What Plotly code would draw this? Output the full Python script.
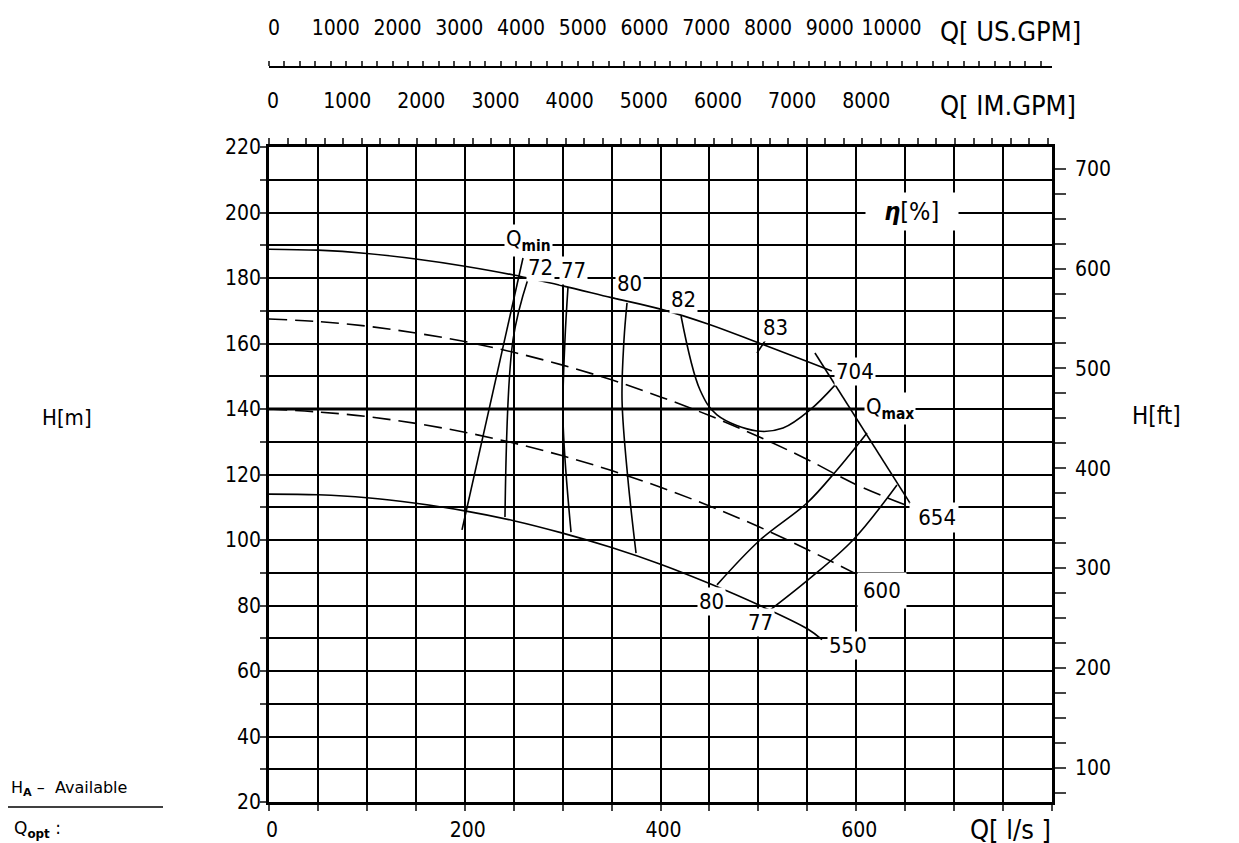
import plotly.graph_objects as go

# ── unit conversions for the secondary axes ──
LPS_TO_USGPM = 15.850
LPS_TO_IMGPM = 13.198
M_TO_FT = 3.28084

# ── pump curves, flow Q [l/s] vs head H [m] ──
q_704 = [0, 50, 100, 150, 200, 250, 300, 350, 400, 450, 500, 550, 575]
h_704 = [188.8, 188.5, 187.5, 185.8, 183.6, 180.9, 177.6, 174.0, 170.5, 165.8, 160.2, 154.5, 151.6]

q_654 = [0, 50, 100, 150, 200, 250, 300, 350, 400, 450, 500, 550, 600, 658]
h_654 = [167.5, 166.7, 165.3, 163.2, 160.6, 157.3, 153.4, 148.9, 143.7, 138.0, 131.6, 124.6, 116.9, 109.8]

q_600 = [0, 50, 100, 150, 200, 250, 300, 350, 400, 450, 500, 550, 602]
h_600 = [140.0, 139.1, 137.7, 135.6, 132.9, 129.6, 125.7, 121.2, 116.1, 110.4, 104.1, 97.1, 89.3]

q_550 = [0, 50, 100, 150, 200, 250, 300, 350, 400, 450, 500, 550, 565]
h_550 = [114.0, 113.8, 112.9, 111.2, 108.9, 105.9, 102.1, 97.7, 92.6, 86.7, 80.2, 72.9, 69.6]

# ── efficiency iso-lines ──
q_eta72 = [264.6, 249.3, 241.1]
h_eta72 = [179.7, 161.1, 107.0]
q_eta77 = [305.5, 302.4, 300.4, 308.6]
h_eta77 = [177.3, 161.1, 136.6, 102.4]
q_eta80 = [365.8, 362.7, 360.7, 366.8, 375.0]
h_eta80 = [172.4, 161.1, 142.7, 118.3, 96.0]
q_eta82 = [421.0, 440.4, 457.7, 498.6, 525.2, 552.7, 578.3]
h_eta82 = [168.4, 145.8, 138.2, 133.3, 134.2, 139.7, 147.3]
q_eta83 = [498.6, 508.8]
h_eta83 = [157.1, 161.7]
q_eta80b = [457.7, 501.7, 549.7, 580.3, 611.0]
h_eta80b = [86.3, 100.0, 111.3, 121.4, 132.7]
q_eta77b = [511.9, 550.7, 596.7, 641.6]
h_eta77b = [78.6, 87.8, 100.0, 116.8]

# ── operating limits ──
q_qmin = [259.5, 197.2]
h_qmin = [186.1, 103.1]
q_qmax = [557.8, 658.0]
h_qmax = [157.1, 109.8]
q_hline = [0, 611]
h_hline = [140, 140]

# ── labels ──
curve_labels = ["704", "550"]
curve_label_q = [598.7, 591.6]
curve_label_h = [151.3, 67.9]
eta_labels = ["72", "77", "80", "82", "83", "80", "77"]
eta_label_q = [276.9, 310.6, 368.8, 423.0, 517.0, 452.6, 501.7]
eta_label_h = [183.1, 182.4, 178.2, 173.3, 165.0, 81.1, 74.7]

x_ticks = [0, 200, 400, 600]
y_ticks = [20, 40, 60, 80, 100, 120, 140, 160, 180, 200, 220]
ft_ticks = [100, 200, 300, 400, 500, 600, 700]
us_ticks = [0, 1000, 2000, 3000, 4000, 5000, 6000, 7000, 8000, 9000, 10000]
im_ticks = [0, 1000, 2000, 3000, 4000, 5000, 6000, 7000, 8000]

FONT = "DejaVu Sans Condensed, Liberation Sans Narrow, sans-serif"
W, H = 1239, 843
# the page sits 8px in from the window corner, margins allow for that
ML, MR, MT, MB = 261, 195, 59, 49
PLOT_W = 783
PLOT_H = 735


def px(x, y):
    # window pixel position -> paper coordinates
    return (x - 269) / PLOT_W, (802 - y) / PLOT_H


fig = go.Figure()

line = dict(color="black", width=1.6)
dash = dict(color="black", width=1.6, dash="18px,8px")

fig.add_trace(go.Scatter(x=q_hline, y=h_hline, mode="lines", line=dict(color="black", width=3)))
fig.add_trace(go.Scatter(x=q_704, y=h_704, mode="lines", line=line, line_shape="spline"))
fig.add_trace(go.Scatter(x=q_654, y=h_654, mode="lines", line=dash, line_shape="spline"))
fig.add_trace(go.Scatter(x=q_600, y=h_600, mode="lines", line=dash, line_shape="spline"))
fig.add_trace(go.Scatter(x=q_550, y=h_550, mode="lines", line=line, line_shape="spline"))

for qq, hh in [(q_eta72, h_eta72), (q_eta77, h_eta77), (q_eta80, h_eta80), (q_eta82, h_eta82),
               (q_eta83, h_eta83), (q_eta80b, h_eta80b), (q_eta77b, h_eta77b),
               (q_qmin, h_qmin), (q_qmax, h_qmax)]:
    fig.add_trace(go.Scatter(x=qq, y=hh, mode="lines", line=line, line_shape="spline"))

# invisible traces so the extra axes get drawn
fig.add_trace(go.Scatter(x=[0], y=[20], xaxis="x2", mode="none"))
fig.add_trace(go.Scatter(x=[0], y=[20], xaxis="x3", mode="none"))
fig.add_trace(go.Scatter(x=[0], y=[100], yaxis="y2", mode="none"))

grid = dict(showgrid=True, gridcolor="black", gridwidth=1.8)
y_dom = 655 / PLOT_H

fig.update_layout(
    width=W, height=H,
    margin=dict(l=ML, r=MR, t=MT, b=MB, autoexpand=False),
    plot_bgcolor="white", paper_bgcolor="white",
    showlegend=False,
    font=dict(family=FONT, size=21, color="black"),
    xaxis=dict(range=[0, 800], tickvals=x_ticks, ticks="outside", ticklen=6, tickwidth=1.8,
               showline=True, linecolor="black", linewidth=3, zeroline=False, automargin=False,
               minor=dict(dtick=50, tick0=0, ticks="outside", ticklen=6, tickwidth=1.8, **grid),
               ticklabelstandoff=1, ticklabelshift=3, **grid),
    yaxis=dict(range=[20, 220], domain=[0, y_dom], tickvals=y_ticks, ticks="outside", ticklen=6,
               tickwidth=1.8, showline=True, linecolor="black", linewidth=2.5, zeroline=False,
               automargin=False,
               minor=dict(dtick=10, tick0=0, ticks="outside", ticklen=6, tickwidth=1.8, **grid),
               ticklabelstandoff=-5, **grid),
    xaxis2=dict(overlaying="x", side="top", anchor="y", range=[0, 800 * LPS_TO_IMGPM],
                tickvals=im_ticks, ticks="outside", ticklen=6, tickwidth=1.8, automargin=False,
                showline=True, linecolor="black", linewidth=3, showgrid=False, zeroline=False,
                minor=dict(dtick=250, tick0=0, ticks="outside", ticklen=6, tickwidth=1.8),
                ticklabelstandoff=22, ticklabelshift=4),
    xaxis3=dict(overlaying="x", side="top", anchor="free", position=1, automargin=False,
                range=[0, 800 * LPS_TO_USGPM],
                tickvals=us_ticks, ticktext=[str(v) for v in us_ticks],
                ticks="outside", ticklen=5, tickwidth=1.8,
                showline=True, linecolor="black", linewidth=2, showgrid=False, zeroline=False,
                minor=dict(tickvals=list(range(0, 12501, 250)), ticks="outside", ticklen=5, tickwidth=1.8),
                ticklabelstandoff=18, ticklabelshift=5),
    yaxis2=dict(overlaying="y", side="right", anchor="x", range=[20 * M_TO_FT, 220 * M_TO_FT],
                tickvals=ft_ticks, ticks="outside", ticklen=11, tickwidth=1.8, automargin=False,
                showline=True, linecolor="black", linewidth=2.5, showgrid=False, zeroline=False,
                minor=dict(dtick=25, tick0=0, ticks="outside", ticklen=11, tickwidth=1.8),
                ticklabelstandoff=5),
)

# curve labels, white boxes break the grid like the drawing
for t, qv, hv in zip(curve_labels + eta_labels, curve_label_q + eta_label_q, curve_label_h + eta_label_h):
    fig.add_annotation(x=qv, y=hv, text=t, showarrow=False, bgcolor="white", borderpad=1,
                       font=dict(size=22))

# "654" and "600" sit in boxes that blank a whole grid cell
fig.add_annotation(x=654, y=107.0, text="&nbsp;654", showarrow=False, xanchor="left",
                   bgcolor="white", borderpad=2, font=dict(size=22))
fig.add_annotation(x=626, y=84.5, text="600", showarrow=False, bgcolor="white", borderpad=5,
                   font=dict(size=22))

fig.add_annotation(x=657, y=200.2, text="&nbsp;&nbsp;<b><i>η</i></b>[%]&nbsp;&nbsp;", showarrow=False,
                   bgcolor="white", borderpad=4, font=dict(size=25))
fig.add_annotation(x=265, y=191.6, text="Q<sub><b>min</b></sub>", showarrow=False, bgcolor="white",
                   borderpad=1, font=dict(size=22))
fig.add_annotation(x=634.5, y=140.3, text="Q<sub><b>max</b></sub>", showarrow=False, bgcolor="white",
                   borderpad=1, font=dict(size=22))

# axis titles placed as in the drawing
for text, x, y, anchor, size in [
    ("Q[ US.GPM]", 938, 32, "left", 27),
    ("Q[ IM.GPM]", 938, 105, "left", 27),
    ("Q[ l/s ]", 968, 829, "left", 27),
    ("H[m]", 40, 418, "left", 22),
    ("H[ft]", 1130, 416, "left", 24),
]:
    xp, yp = px(x, y)
    fig.add_annotation(x=xp, y=yp, xref="paper", yref="paper", text=text, showarrow=False,
                       xanchor=anchor, yanchor="middle", font=dict(size=size))

xp, yp = px(9, 788)
fig.add_annotation(x=xp, y=yp, xref="paper", yref="paper", text="H<sub><b>A</b></sub> –  Available",
                   showarrow=False, xanchor="left", yanchor="middle",
                   font=dict(family="DejaVu Sans", size=16))
xp, yp = px(12, 829)
fig.add_annotation(x=xp, y=yp, xref="paper", yref="paper", text="Q<sub><b>opt</b></sub> :",
                   showarrow=False, xanchor="left", yanchor="middle",
                   font=dict(family="DejaVu Sans", size=17))
x0, y0 = px(0, 807)
x1, _ = px(163, 807)
fig.add_shape(type="line", xref="paper", yref="paper", x0=x0, x1=x1, y0=y0, y1=y0,
              line=dict(color="black", width=1.5))

fig.write_html("out.html")
